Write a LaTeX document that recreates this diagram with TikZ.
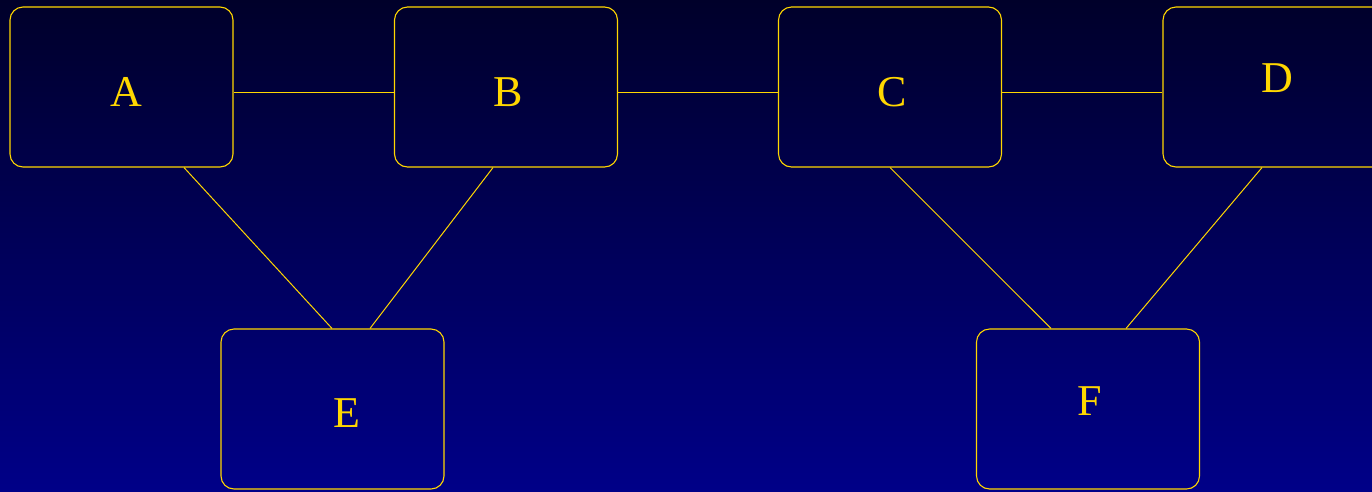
\documentclass[tikz,border=0pt]{standalone}
\usepackage{fontspec}
\setmainfont{Liberation Serif}
\definecolor{gold}{RGB}{255,215,0}
\definecolor{bgtop}{RGB}{0,0,42}
\definecolor{bgbot}{RGB}{0,0,136}
\tikzset{
  box/.style={draw=gold, line width=1.1pt, rounded corners=13pt, rectangle,
    minimum width=223pt, minimum height=160pt, inner sep=0pt},
  lbl/.style={text=gold, font=\fontsize{44}{44}\selectfont, inner sep=0pt, anchor=center},
  link/.style={draw=gold, line width=1pt}
}
\begin{document}
\begin{tikzpicture}[x=1pt,y=-1pt]
\useasboundingbox (0,0) rectangle (1372,491);
\clip (0,0) rectangle (1372,491);
\shade[top color=bgtop, bottom color=bgbot] (0,0) rectangle (1372,491);
\node[box] (A) at (121.5,87) {};
\node[box] (B) at (506,87) {};
\node[box] (C) at (890,87) {};
\node[box] (D) at (1274.5,87) {};
\node[box] (E) at (332.5,409) {};
\node[box] (F) at (1088,409) {};
\node[lbl] (tA) at (126.5,92) {A};
\node[lbl] (tB) at (508.5,92) {B};
\node[lbl] (tC) at (892.5,92) {C};
\node[lbl] (tD) at (1277.5,78) {D};
\node[lbl] (tE) at (346.5,413) {E};
\node[lbl] (tF) at (1089.5,401) {F};
\draw[link] ([yshift=-5.5pt]A.east) -- ([yshift=-5.5pt]B.west);
\draw[link] ([yshift=-5.5pt]B.east) -- ([yshift=-5.5pt]C.west);
\draw[link] ([yshift=-5.5pt]C.east) -- ([yshift=-5.5pt]D.west);
\draw[link] ([xshift=62.5pt]A.south) -- ([xshift=-0.5pt]E.north);
\draw[link] ([xshift=-13pt]B.south) -- ([xshift=37.5pt]E.north);
\draw[link] ([xshift=0pt]C.south) -- ([xshift=-37pt]F.north);
\draw[link] ([xshift=-12.5pt]D.south) -- ([xshift=38pt]F.north);
\end{tikzpicture}
\end{document}
